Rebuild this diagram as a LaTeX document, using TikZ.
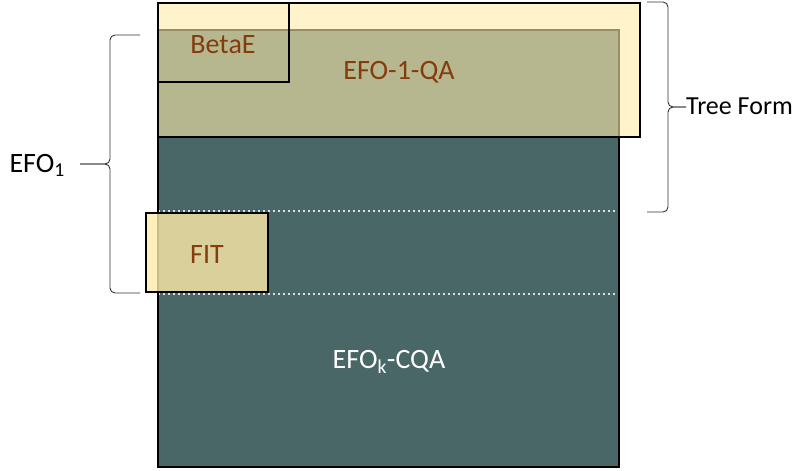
\documentclass[tikz,border=0pt]{standalone}
\usepackage{fontspec}
\setmainfont{Carlito}
\usetikzlibrary{calc}
\definecolor{efoTeal}{HTML}{4A6767}
\definecolor{efoCream}{HTML}{FFEBAA}
\definecolor{efoBrown}{HTML}{843C0C}
\tikzset{
  qfig/.style={font=\fontsize{28}{34}\selectfont},
  qfigSide/.style={font=\fontsize{26}{32}\selectfont},
  qfigDark/.style={qfig, text=efoBrown},
  boxline/.style={draw=black, line width=2.6pt},
  sepline/.style={draw=white!88!black, line width=1.4pt, dash pattern=on 2pt off 3pt},
  braceline/.style={draw=black!80, line width=0.9pt, rounded corners=5pt},
}
\begin{document}
\begin{tikzpicture}[x=1pt, y=-1pt]
  \useasboundingbox (0,0) rectangle (798,471);

  % whole EFO_k-CQA space
  \coordinate (allNW) at (158,30);
  \coordinate (allSE) at (619,467);
  \fill[efoTeal] (allNW) rectangle (allSE);

  % band borders
  \coordinate (treeCut) at (158,211);
  \coordinate (efoCut) at (158,294);
  \draw[sepline] (treeCut) -- (treeCut -| allSE);
  \draw[sepline] (efoCut) -- (efoCut -| allSE);
  \draw[boxline] (allNW) rectangle (allSE);

  % tree form region
  \coordinate (qaNW) at (158,3);
  \coordinate (qaSE) at (640,137);
  \fill[efoCream, fill opacity=0.6] (qaNW) rectangle (qaSE);
  \draw[boxline] (qaNW) rectangle (qaSE);

  \coordinate (betaSE) at (289,82);
  \draw[boxline] (qaNW) rectangle (betaSE);

  \coordinate (fitNW) at (146,213);
  \coordinate (fitSE) at (268,292);
  \filldraw[boxline, fill=efoCream, fill opacity=0.8] (fitNW) rectangle (fitSE);

  \node[qfigDark, anchor=base] (betaText) at (223,53) {BetaE};
  \node[qfigDark, anchor=base] (qaText) at (399,79) {EFO-1-QA};
  \node[qfigDark, anchor=base] (fitText) at (207,263) {FIT};
  \node[qfig, text=white, anchor=base] (cqaText) at (389,368) {EFO\textsubscript{k}-CQA};

  % braces
  \node[qfig, anchor=base east, inner sep=0pt] (efoText) at (65,172) {EFO\textsubscript{1}};
  \coordinate (efoTip) at (80,164);
  \draw[braceline] (140,35) -- (110,35) -- (110,164) -- (efoTip);
  \draw[braceline] (140,293) -- (110,293) -- (110,164) -- (efoTip);

  \node[qfigSide, anchor=base west, inner sep=0pt] (treeText) at (686,114) {Tree Form};
  \coordinate (treeTip) at (686,107);
  \draw[braceline] (647,2) -- (668,2) -- (668,107) -- (treeTip);
  \draw[braceline] (647,212) -- (668,212) -- (668,107) -- (treeTip);
\end{tikzpicture}
\end{document}
